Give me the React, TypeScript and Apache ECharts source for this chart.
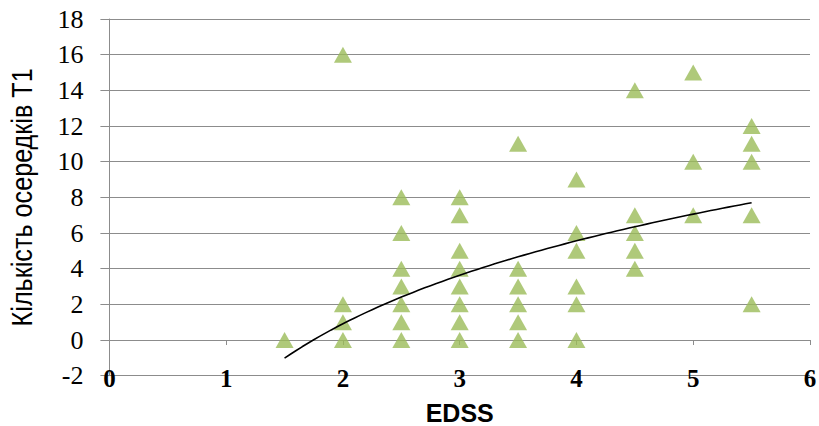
import React, { useEffect, useRef } from "react";
import * as echarts from "echarts";

// EDSS score of each patient and the matching count of T1 lesions
const edss = [
  1.5,
  2, 2, 2, 2,
  2.5, 2.5, 2.5, 2.5, 2.5, 2.5, 2.5,
  3, 3, 3, 3, 3, 3, 3, 3,
  3.5, 3.5, 3.5, 3.5, 3.5, 3.5,
  4, 4, 4, 4, 4, 4,
  4.5, 4.5, 4.5, 4.5, 4.5,
  5, 5, 5,
  5.5, 5.5, 5.5, 5.5, 5.5,
];
const lesions = [
  0,
  16, 2, 1, 0,
  8, 6, 4, 3, 2, 1, 0,
  8, 7, 5, 4, 3, 2, 1, 0,
  11, 4, 3, 2, 1, 0,
  9, 6, 5, 3, 2, 0,
  14, 7, 6, 5, 4,
  15, 10, 7,
  12, 11, 10, 7, 2,
];

// Logarithmic trend line y = A·ln(x) + B over the observed EDSS span
const trendA = 6.71;
const trendB = -3.74;
const trendFrom = 1.5;
const trendTo = 5.5;
const trendSteps = 80;

const yTicks = { min: -2, max: 18, interval: 2 };
const xTicks = { min: 0, max: 6, interval: 1 };

const yTitle = "Кількість осередків Т1";
const xTitle = "EDSS";

const gridColor = "#8c8c8c";
const markerColor = "#9bbb59";

const GRID = { left: 109.4, right: 9, top: 19, bottom: 50.3 };

export default function App() {
  const ref = useRef<HTMLDivElement>(null);

  useEffect(() => {
    if (!ref.current) return;
    const chart = echarts.init(ref.current, undefined, { renderer: "svg" });

    const points = edss.map((x, i) => [x, lesions[i]]);
    const trend: number[][] = [];
    for (let i = 0; i <= trendSteps; i++) {
      const x = trendFrom + ((trendTo - trendFrom) * i) / trendSteps;
      trend.push([x, trendA * Math.log(x) + trendB]);
    }

    const plotMidY = GRID.top + (426 - GRID.top - GRID.bottom) / 2;

    chart.setOption({
      animation: false,
      backgroundColor: "#ffffff",
      grid: { ...GRID, containLabel: false, outerBoundsMode: "none" },
      // Narrow, rotated y-axis title
      graphic: [
        {
          type: "text",
          x: 21.5,
          y: plotMidY,
          rotation: Math.PI / 2,
          scaleX: 0.84,
          style: {
            text: yTitle,
            fontFamily: "Liberation Sans",
            fontSize: 30,
            fill: "#000",
            align: "center",
            verticalAlign: "middle",
          },
        },
      ],
      xAxis: [
        {
          type: "value",
          ...xTicks,
          position: "bottom",
          axisLine: { show: false, onZero: false },
          axisTick: { show: false },
          splitLine: { show: false },
          axisLabel: {
            margin: 3,
            verticalAlign: "middle",
            fontFamily: "Liberation Serif",
            fontWeight: "bold",
            fontSize: 25,
            color: "#000",
          },
          name: xTitle,
          nameLocation: "middle",
          nameGap: 25,
          nameTextStyle: {
            fontFamily: "Liberation Sans",
            fontWeight: "bold",
            fontSize: 25,
            color: "#000",
          },
        },
        {
          type: "value",
          ...xTicks,
          position: "bottom",
          axisLine: { show: true, onZero: true, lineStyle: { color: gridColor, width: 1 } },
          axisTick: { show: true, length: 5, lineStyle: { color: gridColor } },
          axisLabel: { show: false },
          splitLine: { show: false },
        },
      ],
      yAxis: {
        type: "value",
        ...yTicks,
        axisLine: { show: true, onZero: false, lineStyle: { color: gridColor, width: 1 } },
        axisTick: { show: true, length: 9, lineStyle: { color: gridColor } },
        splitLine: { show: true, lineStyle: { color: gridColor, width: 1 } },
        axisLabel: {
          margin: 26,
          fontFamily: "Liberation Serif",
          fontSize: 26,
          color: "#000",
        },
      },
      series: [
        {
          type: "scatter",
          xAxisIndex: 0,
          data: points,
          symbol: "triangle",
          symbolSize: [18, 16],
          itemStyle: { color: markerColor },
          z: 3,
        },
        {
          type: "line",
          xAxisIndex: 0,
          data: trend,
          showSymbol: false,
          symbol: "none",
          lineStyle: { color: "#000", width: 1.6 },
          z: 4,
        },
      ],
    });

    return () => chart.dispose();
  }, []);

  return (
    <div
      ref={ref}
      style={{ position: "fixed", left: 0, top: 0, width: 819, height: 426 }}
    />
  );
}
